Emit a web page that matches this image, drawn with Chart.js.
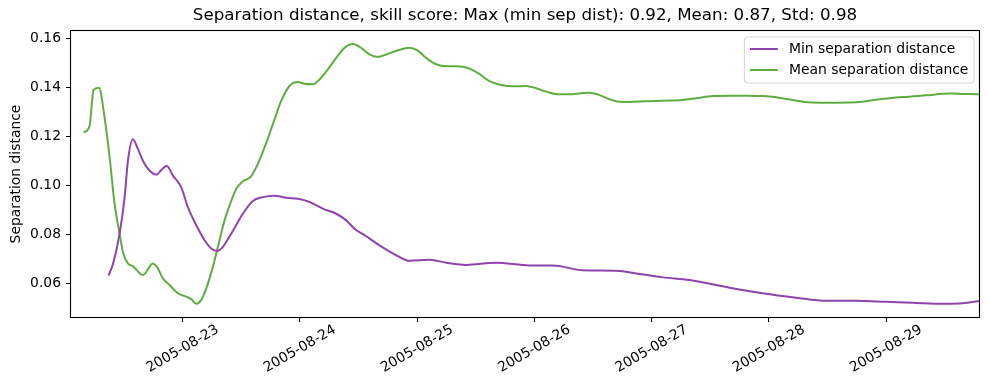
<!DOCTYPE html>
<html><head><meta charset="utf-8">
<script src="https://cdn.jsdelivr.net/npm/chart.js@4.4.0/dist/chart.umd.min.js"></script>
<style>html,body{margin:0;padding:0;background:#fff}</style>
</head><body>
<canvas id="c" width="989" height="390"></canvas>
<script>
const chartTitle = "Separation distance, skill score: Max (min sep dist): 0.92, Mean: 0.87, Std: 0.98";
const seriesNames = ["Min separation distance", "Mean separation distance"];
const yAxisTitle = "Separation distance";

// x values: days since 2005-08-22 00:00
const minDays = [0.369,0.412,0.463,0.506,0.534,0.576,0.619,0.662,0.719,0.781,0.818,0.866,0.918,0.989,1.045,1.117,1.188,1.245,1.292,1.344,1.415,1.514,1.599,1.685,1.784,1.884,1.983,2.083,2.196,2.310,2.396,2.466,2.566,2.679,2.836,2.935,3.106,3.248,3.419,3.674,3.958,4.157,4.413,4.697,4.896,5.095,5.322,5.663,5.947,6.232,6.488,6.743,6.999,7.226,7.510,7.652,7.800];
const minValues = [0.0630,0.0687,0.0802,0.0951,0.1100,0.1188,0.1148,0.1100,0.1059,0.1043,0.1062,0.1078,0.1039,0.0991,0.0910,0.0836,0.0775,0.0741,0.0731,0.0748,0.0802,0.0883,0.0935,0.0951,0.0957,0.0948,0.0944,0.0931,0.0904,0.0883,0.0856,0.0822,0.0791,0.0754,0.0710,0.0691,0.0695,0.0683,0.0674,0.0683,0.0672,0.0672,0.0652,0.0650,0.0637,0.0623,0.0612,0.0581,0.0558,0.0540,0.0527,0.0527,0.0523,0.0519,0.0515,0.0517,0.0527];
const meanDays = [0.156,0.207,0.241,0.287,0.335,0.378,0.420,0.463,0.491,0.534,0.576,0.662,0.747,0.781,0.832,0.889,0.960,1.031,1.074,1.117,1.159,1.202,1.258,1.315,1.358,1.401,1.458,1.514,1.586,1.642,1.699,1.770,1.841,1.912,1.983,2.040,2.111,2.168,2.239,2.310,2.381,2.452,2.523,2.594,2.665,2.737,2.850,2.935,3.006,3.077,3.148,3.219,3.333,3.432,3.517,3.617,3.717,3.816,3.930,4.015,4.101,4.200,4.299,4.399,4.470,4.555,4.640,4.725,4.811,4.953,5.095,5.265,5.379,5.521,5.663,5.806,5.947,6.090,6.289,6.488,6.743,6.942,7.141,7.340,7.539,7.710,7.800];
const meanValues = [0.1215,0.1242,0.1389,0.1398,0.1276,0.1113,0.0924,0.0802,0.0727,0.0680,0.0669,0.0633,0.0680,0.0666,0.0619,0.0592,0.0558,0.0544,0.0534,0.0515,0.0531,0.0578,0.0666,0.0775,0.0856,0.0917,0.0985,0.1015,0.1037,0.1087,0.1154,0.1249,0.1344,0.1405,0.1421,0.1414,0.1412,0.1432,0.1473,0.1520,0.1561,0.1577,0.1561,0.1534,0.1524,0.1534,0.1553,0.1561,0.1550,0.1520,0.1497,0.1487,0.1486,0.1479,0.1459,0.1425,0.1409,0.1404,0.1405,0.1396,0.1382,0.1371,0.1371,0.1376,0.1378,0.1368,0.1351,0.1341,0.1340,0.1343,0.1345,0.1348,0.1355,0.1364,0.1365,0.1365,0.1364,0.1357,0.1341,0.1337,0.1339,0.1351,0.1360,0.1367,0.1374,0.1372,0.1371];

const xTickDays = [1,2,3,4,5,6,7];
const xTickLabels = ["2005-08-23","2005-08-24","2005-08-25","2005-08-26","2005-08-27","2005-08-28","2005-08-29"];
const yTickValues = [0.06,0.08,0.10,0.12,0.14,0.16];
const yTickLabels = ["0.06","0.08","0.10","0.12","0.14","0.16"];

const colors = ["#8e44ad", "#5fad41"];
const FONT = "DejaVu Sans";
Chart.defaults.font.family = FONT;

const toPoints = (xs, ys) => xs.map((x, i) => ({x: x, y: ys[i]}));

const decorPlugin = {
  id: 'decor',
  afterDraw(chart) {
    const ctx = chart.ctx;
    const a = chart.chartArea;
    ctx.save();
    // frame
    ctx.strokeStyle = '#000';
    ctx.lineWidth = 1.1;
    ctx.strokeRect(a.left + 0.5, a.top + 0.5, a.right - a.left - 1, a.bottom - a.top - 1);
    // title
    ctx.fillStyle = '#000';
    ctx.font = '16.7px "' + FONT + '"';
    ctx.textAlign = 'center';
    ctx.textBaseline = 'middle';
    ctx.fillText(chartTitle, (a.left + a.right) / 2, 16);
    // x tick labels (centered & rotated 30deg)
    const xs = chart.scales.x;
    ctx.font = '13.9px "' + FONT + '"';
    xTickDays.forEach((d, i) => {
      const px = xs.getPixelForValue(d);
      ctx.save();
      ctx.translate(px, a.bottom + 31);
      ctx.rotate(-Math.PI / 6);
      ctx.textAlign = 'center';
      ctx.textBaseline = 'middle';
      ctx.fillText(xTickLabels[i], 0, 0);
      ctx.restore();
    });
    // legend
    ctx.font = '13.9px "' + FONT + '"';
    const tw = Math.max(...seriesNames.map(s => ctx.measureText(s).width));
    const pad = 5.6, handle = 27.8, gap = 11.1, rowH = 21;
    const bw = pad + handle + gap + tw + pad;
    const bh = 46;
    const bx = a.right - 6 - bw, by = a.top + 7;
    ctx.beginPath();
    const r = 3;
    ctx.moveTo(bx + r, by);
    ctx.arcTo(bx + bw, by, bx + bw, by + bh, r);
    ctx.arcTo(bx + bw, by + bh, bx, by + bh, r);
    ctx.arcTo(bx, by + bh, bx, by, r);
    ctx.arcTo(bx, by, bx + bw, by, r);
    ctx.closePath();
    ctx.fillStyle = 'rgba(255,255,255,0.8)';
    ctx.fill();
    ctx.strokeStyle = '#d6d6d6';
    ctx.lineWidth = 1;
    ctx.stroke();
    seriesNames.forEach((s, i) => {
      const cy = by + 12 + i * rowH;
      ctx.strokeStyle = colors[i];
      ctx.lineWidth = 2;
      ctx.beginPath();
      ctx.moveTo(bx + pad, cy);
      ctx.lineTo(bx + pad + handle, cy);
      ctx.stroke();
      ctx.fillStyle = '#000';
      ctx.textAlign = 'left';
      ctx.textBaseline = 'middle';
      ctx.fillText(s, bx + pad + handle + gap, cy);
    });
    ctx.restore();
  }
};

new Chart(document.getElementById('c'), {
  type: 'line',
  data: {
    datasets: [
      {label: seriesNames[0], data: toPoints(minDays, minValues), borderColor: colors[0], backgroundColor: colors[0], borderWidth: 2, pointRadius: 0, cubicInterpolationMode: 'monotone', fill: false},
      {label: seriesNames[1], data: toPoints(meanDays, meanValues), borderColor: colors[1], backgroundColor: colors[1], borderWidth: 2, pointRadius: 0, cubicInterpolationMode: 'monotone', fill: false}
    ]
  },
  options: {
    responsive: false,
    animation: false,
    layout: {padding: {left: 0, top: 30, right: 9, bottom: 0}},
    plugins: {legend: {display: false}, title: {display: false}, tooltip: {enabled: false}},
    scales: {
      x: {
        type: 'linear', min: 0.04, max: 7.80,
        afterBuildTicks: s => { s.ticks = xTickDays.map(v => ({value: v})); },
        afterFit: s => { s.height = 72; },
        ticks: {display: false},
        grid: {display: true, drawOnChartArea: false, drawTicks: true, tickLength: 4, color: '#000', lineWidth: 1},
        border: {display: false}
      },
      y: {
        type: 'linear', min: 0.0457, max: 0.1634,
        afterBuildTicks: s => { s.ticks = yTickValues.map(v => ({value: v})); },
        afterFit: s => { s.width = 70; },
        ticks: {
          color: '#000', font: {size: 13.9, family: FONT}, padding: 5,
          callback: (v) => { const i = yTickValues.findIndex(t => Math.abs(t - v) < 1e-9); return i >= 0 ? yTickLabels[i] : ''; }
        },
        grid: {display: true, drawOnChartArea: false, drawTicks: true, tickLength: 4, color: '#000', lineWidth: 1},
        border: {display: false},
        title: {display: true, text: yAxisTitle, color: '#000', font: {size: 13.9, family: FONT}, padding: {top: 8, bottom: 0}}
      }
    }
  },
  plugins: [decorPlugin]
});
</script>
</body></html>
